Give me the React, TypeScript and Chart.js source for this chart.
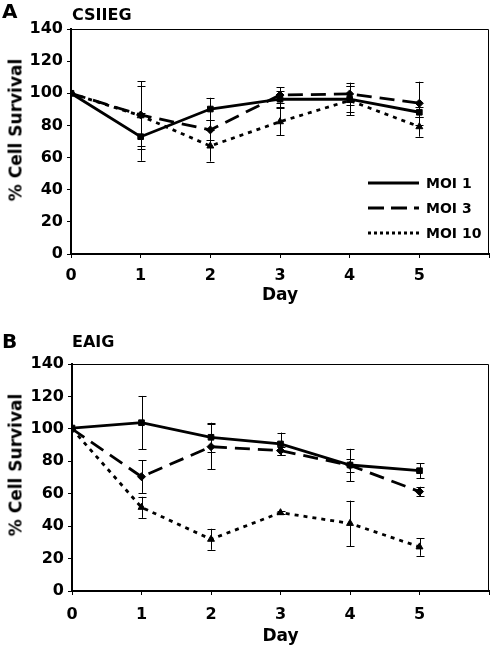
import React, { useEffect, useRef } from "react";
import { Chart, registerables } from "chart.js";

Chart.register(...registerables);

// ---------- data ----------
const days = [0, 1, 2, 3, 4, 5];
const xTickLabels = ["0", "1", "2", "3", "4", "5"];
const seriesLabels = ["MOI 1", "MOI 3", "MOI 10"];

// Panel A: CSIIEG
const aMoi1 = [100, 73, 90.2, 96.3, 96.3, 88.2];
const aMoi1Err = [0, 15, 7, 5, 8, 3];
const aMoi3 = [100, 86.5, 77.2, 98.9, 99.6, 93.8];
const aMoi3Err = [0, 21, 6, 5, 7, 13.4];
const aMoi10 = [100, 86, 67.2, 82.3, 95.5, 79.2];
const aMoi10Err = [0, 18.5, 9.7, 8.3, 9, 6.2];

// Panel B: EAIG
const bMoi1 = [100.5, 103.8, 94.8, 90.7, 77.7, 74.2];
const bMoi1Err = [0, 16.5, 9, 7, 10, 4.5];
const bMoi3 = [100, 70.5, 89, 86.6, 77.5, 61.3];
const bMoi3Err = [0, 10, 14, 2.5, 4, 3];
const bMoi10 = [100, 51.6, 31.9, 48.3, 41.7, 27.2];
const bMoi10Err = [0, 6.5, 6.5, 1, 14, 5.5];

// ---------- styles ----------
const FONT = "'DejaVu Sans', Verdana, sans-serif";
const pointStyles = ["rect", "rectRot", "triangle"];
const lineDashes = [[], [15, 8], [4, 5]];
const legendDashes = [[], [16, 7], [3, 3]];

const errorBarPlugin = {
  id: "errorBars",
  afterDatasetsDraw(chart: any) {
    const { ctx } = chart;
    const ys = chart.scales.y;
    const xs = chart.scales.x;
    ctx.save();
    ctx.strokeStyle = "#000";
    ctx.lineWidth = 1;
    ctx.setLineDash([]);
    chart.data.datasets.forEach((ds: any) => {
      ds.data.forEach((p: any, i: number) => {
        const e = ds.err[i];
        if (!e) return;
        const x = Math.round(xs.getPixelForValue(p.x)) + 0.5;
        const y1 = ys.getPixelForValue(p.y + e);
        const y2 = ys.getPixelForValue(p.y - e);
        ctx.beginPath();
        ctx.moveTo(x, y1);
        ctx.lineTo(x, y2);
        ctx.moveTo(x - 4, Math.round(y1) + 0.5);
        ctx.lineTo(x + 4, Math.round(y1) + 0.5);
        ctx.moveTo(x - 4, Math.round(y2) + 0.5);
        ctx.lineTo(x + 4, Math.round(y2) + 0.5);
        ctx.stroke();
      });
    });
    ctx.restore();
  },
};

const framePlugin = {
  id: "frame",
  afterDraw(chart: any) {
    const { ctx, chartArea: a } = chart;
    ctx.save();
    ctx.strokeStyle = "#000";
    ctx.lineWidth = 1;
    ctx.setLineDash([]);
    ctx.beginPath();
    ctx.moveTo(a.left, Math.round(a.top) + 0.5);
    ctx.lineTo(Math.round(a.right) - 0.5, Math.round(a.top) + 0.5);
    ctx.lineTo(Math.round(a.right) - 0.5, a.bottom);
    ctx.stroke();
    ctx.restore();
  },
};

const insetLegendPlugin = {
  id: "insetLegend",
  afterDraw(chart: any) {
    const { ctx, chartArea: a } = chart;
    ctx.save();
    chart.data.datasets.forEach((ds: any, k: number) => {
      const y = a.top + 154 + k * 25;
      ctx.strokeStyle = "#000";
      ctx.lineWidth = 2.8;
      ctx.setLineDash(ds.legendDash);
      ctx.beginPath();
      ctx.moveTo(a.left + 297, y);
      ctx.lineTo(a.left + 348, y);
      ctx.stroke();
      ctx.setLineDash([]);
      ctx.fillStyle = "#000";
      ctx.font = `bold 14px ${FONT}`;
      ctx.textBaseline = "middle";
      ctx.textAlign = "left";
      ctx.fillText(ds.label, a.left + 355, y + 1);
    });
    ctx.restore();
  },
};

type Panel = {
  letter: string;
  name: string;
  top: number;
  height: number;
  plotTop: number;
  plotLeft: number;
  xAxisH: number;
  xTickPad: number;
  xTitlePad: number;
  yTitleY: number;
  letterTop: number;
  nameTop: number;
  legend: boolean;
  values: number[][];
  errors: number[][];
};

const panels: Panel[] = [
  {
    letter: "A",
    name: "CSIIEG",
    top: 0,
    height: 320,
    plotTop: 29,
    plotLeft: 71,
    xAxisH: 66,
    xTickPad: 8,
    xTitlePad: 14,
    yTitleY: 130,
    letterTop: 1,
    nameTop: 7,
    legend: true,
    values: [aMoi1, aMoi3, aMoi10],
    errors: [aMoi1Err, aMoi3Err, aMoi10Err],
  },
  {
    letter: "B",
    name: "EAIG",
    top: 320,
    height: 327,
    plotTop: 44,
    plotLeft: 72,
    xAxisH: 56,
    xTickPad: 10,
    xTitlePad: 0,
    yTitleY: 145,
    letterTop: 11,
    nameTop: 14,
    legend: false,
    values: [bMoi1, bMoi3, bMoi10],
    errors: [bMoi1Err, bMoi3Err, bMoi10Err],
  },
];

function PanelChart({ p }: { p: Panel }) {
  const ref = useRef<HTMLCanvasElement | null>(null);
  useEffect(() => {
    if (!ref.current) return;
    const tickFont = { family: FONT, size: 16, weight: "bold" as const };
    const datasets = p.values.map((vals, k) => ({
      label: seriesLabels[k],
      data: days.map((d, i) => ({ x: d, y: vals[i] })),
      err: p.errors[k],
      legendDash: legendDashes[k],
      borderColor: "#000",
      backgroundColor: "#000",
      borderWidth: 2.8,
      borderDash: lineDashes[k],
      pointStyle: pointStyles[k],
      pointRadius: 4,
      pointBorderWidth: 1,
      pointBorderColor: "#000",
      pointBackgroundColor: "#000",
      tension: 0,
      fill: false,
    }));
    const plugins: any[] = [errorBarPlugin, framePlugin];
    if (p.legend) plugins.push(insetLegendPlugin);
    const chart = new Chart(ref.current, {
      type: "line",
      data: { datasets } as any,
      plugins,
      options: {
        animation: false,
        responsive: false,
        devicePixelRatio: 1,
        layout: { autoPadding: false, padding: { top: p.plotTop, right: 2, left: 0, bottom: 0 } },
        plugins: { legend: { display: false }, tooltip: { enabled: false } },
        scales: {
          x: {
            type: "linear",
            min: 0,
            max: 6,
            afterFit: (s: any) => {
              s.height = p.xAxisH;
              s.paddingRight = 0;
              s.paddingLeft = 0;
            },
            ticks: {
              stepSize: 1,
              color: "#000",
              font: tickFont,
              padding: p.xTickPad,
              maxRotation: 0,
              autoSkip: false,
              callback: (v: any) => xTickLabels[v] ?? "",
            },
            grid: { drawOnChartArea: false, tickLength: 4, color: "#000", lineWidth: 1 },
            border: { color: "#000", width: 2 },
            title: {
              display: true,
              text: "Day",
              color: "#000",
              font: { family: FONT, size: 17, weight: "bold" },
              padding: { top: 0, bottom: p.xTitlePad },
            },
          },
          y: {
            min: 0,
            max: 140,
            afterFit: (s: any) => {
              s.width = p.plotLeft;
            },
            ticks: { stepSize: 20, color: "#000", font: tickFont, padding: 4 },
            grid: { drawOnChartArea: false, tickLength: 4, color: "#000", lineWidth: 1 },
            border: { color: "#000", width: 2 },
          },
        },
      } as any,
    });
    return () => chart.destroy();
  }, [p]);

  return (
    <div style={{ position: "absolute", left: 0, top: p.top, width: 491, height: p.height }}>
      <canvas ref={ref} width={491} height={p.height} style={{ display: "block", width: 491, height: p.height }} />
      <div
        style={{
          position: "absolute",
          left: 2,
          top: p.letterTop,
          font: `bold 20px ${FONT}`,
          lineHeight: 1,
          color: "#000",
        }}
      >
        {p.letter}
      </div>
      <div
        style={{
          position: "absolute",
          left: 72,
          top: p.nameTop,
          font: `bold 16px ${FONT}`,
          lineHeight: 1,
          color: "#000",
        }}
      >
        {p.name}
      </div>
      <div
        style={{
          position: "absolute",
          left: 16,
          top: p.yTitleY,
          transform: "translate(-50%, -50%) rotate(-90deg)",
          font: `bold 17px ${FONT}`,
          lineHeight: 1,
          whiteSpace: "nowrap",
          color: "#000",
        }}
      >
        % Cell Survival
      </div>
    </div>
  );
}

export default function App() {
  return (
    <div style={{ position: "absolute", left: 0, top: 0, width: 491, height: 647, background: "#fff" }}>
      {panels.map((p) => (
        <PanelChart key={p.letter} p={p} />
      ))}
    </div>
  );
}
